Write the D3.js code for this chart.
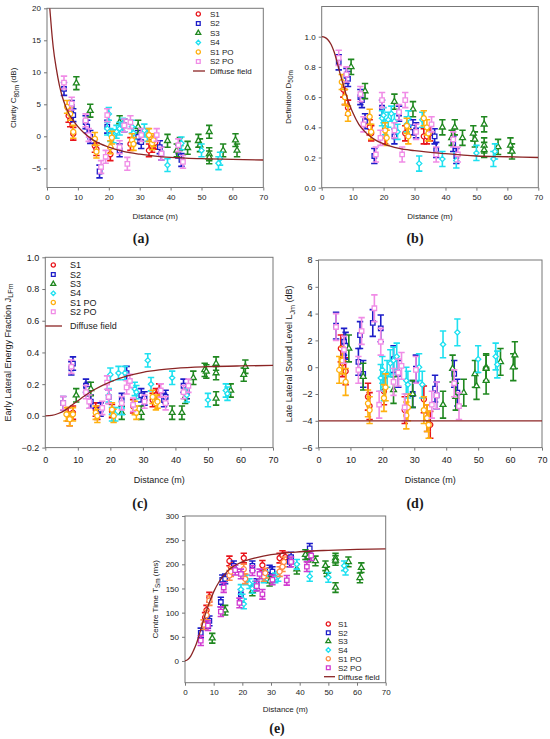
<!DOCTYPE html>
<html>
<head>
<meta charset="utf-8">
<script src="https://cdn.jsdelivr.net/npm/d3@7"></script>
<style>
  body { margin: 0; background: #fff; }
  svg { display: block; }
  text { font-family: "Liberation Sans", Arial, sans-serif; fill: #1a1a1a; }
</style>
</head>
<body>
<svg id="chart" width="550" height="739"></svg>
<script>
// ---- data ----
const seriesNames = ["S1", "S2", "S3", "S4", "S1 PO", "S2 PO"];
const xTicks = [0, 10, 20, 30, 40, 50, 60, 70];

const distS1   = [7, 7.5, 8.5, 15.5, 16, 20.5, 27, 33, 34, 35];
const distS2   = [5.5, 8, 8.5, 12.5, 13, 14, 17, 19.5, 23.5, 25, 29.5, 30.5, 36.5, 37, 42.5, 43.5];
const distS3   = [9.5, 14, 23.5, 29.5, 39, 42, 43, 45.5, 49, 49.5, 52.5, 52.5, 52.5, 57, 61, 61.5];
const distS4   = [19.5, 20, 20.5, 21.5, 22.5, 23.5, 24.5, 27.5, 28, 31.5, 32.5, 39, 43.5, 50, 55.5, 56];
const distS1PO = [6.5, 7.5, 8.5, 15.5, 16, 20.5, 21, 27.5, 28, 33, 34, 34.5];
const distS2PO = [5.5, 8, 12.5, 13.5, 17.5, 19, 19.5, 23.5, 25, 26, 27, 30.5, 35.5, 37, 42.5, 44];

// (a) clarity C80m (dB)
const c80S1   = [3.2, 2.5, 0.4, -1.5, -2.0, -2.8, -1.2, -2.2, -1.5, -1.0];
const c80S2   = [7.4, 4.6, 3.3, 2.2, 1.5, -0.1, -5.5, 1.5, -2.2, 1.7, -0.1, -0.9, -1.7, -2.7, -2.4, -3.7];
const c80S3   = [8.3, 4.0, 2.2, 1.5, -0.7, -2.2, -1.2, -1.8, -0.7, -1.4, 0.7, -2.8, -3.3, -2.2, -0.6, -2.2];
const c80S4   = [1.2, 3.5, 0.2, 0.0, 0.7, 1.2, 1.8, 1.5, 0.5, 0.9, 0.2, -4.5, -1.1, -2.2, -4.2, -3.5];
const c80S1PO = [4.6, 3.5, 0.7, -0.4, -2.4, -1.7, -0.2, -0.6, -1.2, 0.2, -1.1, -0.6];
const c80S2PO = [8.4, 5.1, 2.5, 0.2, -4.8, -3.2, 3.3, -1.7, 1.7, -4.3, 2.2, 0.2, 0.2, -2.7, -1.4, -4.0];
const c80CurveX = [0.9, 1.5, 2, 3, 4, 5, 6, 7, 8, 10, 12, 15, 20, 25, 30, 35, 40, 50, 60, 70];
const c80CurveY = [20, 16.5, 14, 10.6, 8, 6.1, 4.7, 3.6, 2.8, 1.5, 0.5, -0.6, -1.7, -2.4, -2.8, -3.1, -3.3, -3.5, -3.6, -3.7];

// (b) definition D50m
const d50S1   = [0.65, 0.60, 0.53, 0.40, 0.36, 0.34, 0.36, 0.34, 0.34, 0.36];
const d50S2   = [0.83, 0.74, 0.72, 0.60, 0.58, 0.44, 0.21, 0.53, 0.34, 0.49, 0.40, 0.38, 0.34, 0.25, 0.29, 0.21];
const d50S3   = [0.80, 0.64, 0.57, 0.52, 0.40, 0.33, 0.40, 0.33, 0.36, 0.32, 0.42, 0.28, 0.25, 0.27, 0.28, 0.24];
const d50S4   = [0.46, 0.48, 0.40, 0.45, 0.49, 0.44, 0.37, 0.42, 0.46, 0.16, 0.45, 0.19, 0.18, 0.23, 0.19, 0.24];
const d50S1PO = [0.70, 0.60, 0.49, 0.47, 0.37, 0.38, 0.33, 0.41, 0.34, 0.46, 0.40, 0.36];
const d50S2PO = [0.86, 0.75, 0.62, 0.42, 0.22, 0.33, 0.58, 0.38, 0.50, 0.22, 0.58, 0.37, 0.42, 0.22, 0.32, 0.22];
const d50CurveX = [0, 1, 2, 3, 4, 5, 6, 7, 8, 9, 10, 12, 14, 17, 20, 25, 30, 40, 50, 60, 70];
const d50CurveY = [1.0, 0.995, 0.98, 0.95, 0.90, 0.83, 0.75, 0.68, 0.61, 0.55, 0.50, 0.42, 0.37, 0.32, 0.29, 0.26, 0.245, 0.225, 0.21, 0.205, 0.20];

// (c) early lateral energy fraction JLFm
const jlfS1   = [0.01, -0.02, 0.02, 0.04, 0.02, 0.03, 0.06, 0.10, 0.13, 0.16];
const jlfS2   = [0.08, 0.30, 0.33, 0.19, 0.17, 0.09, 0.04, 0.12, 0.10, 0.27, 0.13, 0.11, 0.10, 0.12, 0.19, 0.15];
const jlfS3   = [0.13, 0.17, 0.02, 0.02, 0.02, 0.02, 0.12, 0.24, 0.29, 0.28, 0.33, 0.27, 0.11, 0.16, 0.26, 0.31];
const jlfS4   = [0.13, 0.26, 0.01, 0.01, 0.27, 0.05, 0.27, 0.17, 0.15, 0.35, 0.20, 0.24, 0.13, 0.10, 0.16, 0.14];
const jlfS1PO = [0.01, -0.02, 0.01, 0.02, 0.00, 0.04, 0.00, 0.05, 0.02, 0.12, 0.08, 0.09];
const jlfS2PO = [0.08, 0.31, 0.15, 0.09, 0.05, 0.21, 0.12, 0.08, 0.18, 0.22, 0.07, 0.09, 0.16, 0.08, 0.15, 0.19];
const jlfCurveX = [0, 2, 4, 6, 8, 10, 12, 15, 20, 25, 30, 35, 40, 50, 60, 70];
const jlfCurveY = [0, 0.003, 0.015, 0.035, 0.065, 0.095, 0.125, 0.165, 0.215, 0.25, 0.275, 0.29, 0.30, 0.31, 0.315, 0.318];

// (d) late lateral sound level LJm (dB)
const ljS1   = [1.4, 0.3, -0.3, -2.2, -2.9, -1.8, -3.2, -2.4, -3.8, -4.3];
const ljS2   = [3.1, 1.9, 1.6, 0.4, 2.4, -0.5, 3.3, 2.9, 0.6, -0.5, -2.0, -0.1, -1.6, -2.1, -0.5, -1.9];
const ljS3   = [1.4, -0.7, -1.7, -2.0, -2.8, -0.1, -2.2, -1.9, -0.5, -1.4, 0.0, -0.1, -1.0, 0.4, 0.0, 0.9];
const ljS4   = [-0.8, -0.2, -1.5, -0.5, 0.3, 0.5, 0.8, -1.0, -1.3, 0.0, -1.3, 1.7, 2.6, 0.6, 0.8, 0.2];
const ljS1PO = [-0.2, 0.5, -1.1, -2.7, -3.2, -2.3, -1.5, -3.6, -3.0, -3.2, -3.8, -4.3];
const ljS2PO = [3.0, 1.3, -0.2, 2.7, 4.4, -2.8, 1.9, -1.1, -0.4, 0.1, -3.0, -0.2, -2.8, -2.1, -1.2, -2.9];
const ljCurveX = [0, 70];
const ljCurveY = [-4, -4];

// (e) centre time TSm (ms)
const tsS1   = [90, 105, 132, 207, 195, 213, 198, 213, 218, 215];
const tsS2   = [58, 78, 83, 122, 168, 170, 197, 138, 197, 160, 188, 185, 205, 215, 220, 233];
const tsS3   = [47, 105, 145, 165, 190, 220, 215, 207, 197, 185, 213, 208, 152, 205, 172, 193];
const tsS4   = [148, 128, 118, 168, 160, 150, 155, 172, 176, 172, 175, 200, 175, 173, 197, 188];
const tsS1PO = [75, 95, 125, 177, 185, 190, 170, 175, 182, 185, 195, 205];
const tsS2PO = [42, 73, 102, 152, 188, 120, 180, 187, 155, 180, 138, 168, 167, 205, 195, 218];
const tsCurveX = [0, 1, 2, 3, 4, 5, 6, 7, 8, 10, 12, 15, 20, 25, 30, 40, 50, 60, 70];
const tsCurveY = [0, 3, 10, 22, 36, 55, 75, 95, 113, 143, 165, 187, 205, 214, 220, 226, 229, 231, 232];

// ---- styling ----
const dists = [distS1, distS2, distS3, distS4, distS1PO, distS2PO];
const symbols = [d3.symbolCircle, d3.symbolSquare, d3.symbolTriangle, d3.symbolDiamond2, d3.symbolCircle, d3.symbolSquare];
const symbolSizes = [20, 20, 15, 18, 20, 20];
const colorsAD = ["#e8141b", "#1c1cc8", "#1f871f", "#1ee0f0", "#ffb00f", "#f08ce6"];
const colorsE  = ["#e8141b", "#1c1cc8", "#1f871f", "#1ee0f0", "#ff8a45", "#d13bd1"];
const curveColor = "#8b2525";

const panels = [
  { id: "a", left: 47, right: 263.3, top: 8.3, bottom: 187.5, yDomain: [-8, 20], yTicks: [-5, 0, 5, 10, 15, 20], fmt: d3.format("d"),
    values: [c80S1, c80S2, c80S3, c80S4, c80S1PO, c80S2PO], err: 1.0, curveX: c80CurveX, curveY: c80CurveY, colors: colorsAD,
    font: 8, tickY: 14, xLabelY: 218.5, ylx: 13.3, yl: ["Clarity C", "80m", " (dB)"], cap: [141, 243],
    legend: { mx: 198.3, tx: 210, lx: [193, 205], rows: [14, 23.5, 33, 42.5, 52, 61.5, 71], font: 8 } },
  { id: "b", left: 321.7, right: 538.3, top: 6.5, bottom: 187.7, yDomain: [0, 1.2], yTicks: [0, 0.2, 0.4, 0.6, 0.8, 1.0], fmt: d3.format(".1f"),
    values: [d50S1, d50S2, d50S3, d50S4, d50S1PO, d50S2PO], err: 0.05, curveX: d50CurveX, curveY: d50CurveY, colors: colorsAD,
    font: 8, tickY: 14, xLabelY: 218.5, ylx: 288, yl: ["Definition D", "50m", ""], cap: [415, 243] },
  { id: "c", left: 45.3, right: 273, top: 257.3, bottom: 447.6, yDomain: [-0.2, 1.0], yTicks: [-0.2, 0, 0.2, 0.4, 0.6, 0.8, 1.0], fmt: d3.format(".1f"),
    values: [jlfS1, jlfS2, jlfS3, jlfS4, jlfS1PO, jlfS2PO], err: 0.042, curveX: jlfCurveX, curveY: jlfCurveY, colors: colorsAD,
    font: 9, tickY: 16, xLabelY: 483, ylx: 7.5, yl: ["Early Lateral Energy Fraction J", "LFm", ""], cap: [140, 508],
    legend: { mx: 53.3, tx: 70, lx: [45.3, 62], rows: [265, 274.5, 284, 293.3, 302.5, 311.7, 326], font: 9 } },
  { id: "d", left: 318.5, right: 542, top: 260, bottom: 447.6, yDomain: [-6, 8], yTicks: [-6, -4, -2, 0, 2, 4, 6, 8], fmt: d3.format("d"),
    values: [ljS1, ljS2, ljS3, ljS4, ljS1PO, ljS2PO], err: 1.0, curveX: ljCurveX, curveY: ljCurveY, colors: colorsAD,
    font: 9, tickY: 16, xLabelY: 483, ylx: 289, yl: ["Late Lateral Sound Level L", "Jm", " (dB)"], cap: [415, 508] },
  { id: "e", left: 185, right: 385.7, top: 516, bottom: 682.7, yDomain: [-45, 300], yTicks: [0, 50, 100, 150, 200, 250, 300], fmt: d3.format("d"),
    values: [tsS1, tsS2, tsS3, tsS4, tsS1PO, tsS2PO], err: 10, curveX: tsCurveX, curveY: tsCurveY, colors: colorsE,
    font: 8, tickY: 14, xLabelY: 712, ylx: 155, yl: ["Centre Time T", "Sm", " (ms)"], cap: [277, 733],
    legend: { mx: 328.3, tx: 338, lx: [324, 335], rows: [624, 632.7, 641.3, 650, 658.7, 667.7, 676.7], font: 8 } }
];

const svg = d3.select("#chart");

function drawPanel(p) {
  const g = svg.append("g").attr("class", "panel-" + p.id);
  const x = d3.scaleLinear().domain([0, 70]).range([p.left, p.right]);
  const y = d3.scaleLinear().domain(p.yDomain).range([p.bottom, p.top]);

  const clipId = "clip-" + p.id;
  svg.append("clipPath").attr("id", clipId)
    .append("rect").attr("x", p.left).attr("y", p.top)
    .attr("width", p.right - p.left).attr("height", p.bottom - p.top);

  // axes
  const xa = g.append("g").attr("transform", `translate(0,${p.bottom})`)
    .call(d3.axisBottom(x).tickValues(xTicks).tickSize(3).tickPadding(p.tickY - 10));
  const ya = g.append("g").attr("transform", `translate(${p.left},0)`)
    .call(d3.axisLeft(y).tickValues(p.yTicks).tickFormat(p.fmt).tickSize(3).tickPadding(3));
  [xa, ya].forEach(a => {
    a.select(".domain").remove();
    a.selectAll(".tick line").attr("stroke", "#777");
    a.selectAll(".tick text").attr("font-size", p.font).attr("font-family", "Liberation Sans, Arial, sans-serif").attr("fill", "#1a1a1a");
  });

  // frame
  g.append("rect").attr("x", p.left).attr("y", p.top)
    .attr("width", p.right - p.left).attr("height", p.bottom - p.top)
    .attr("fill", "none").attr("stroke", "#777").attr("stroke-width", 1);

  const plot = g.append("g").attr("clip-path", `url(#${clipId})`);

  // error bars + markers per series
  p.values.forEach((vals, si) => {
    const col = p.colors[si];
    const pts = dists[si].map((d, i) => ({ d, v: vals[i] }));
    const sg = plot.append("g");
    const eb = sg.selectAll("g.eb").data(pts).join("g").attr("class", "eb");
    eb.append("line")
      .attr("x1", d => x(d.d)).attr("x2", d => x(d.d))
      .attr("y1", d => y(d.v - p.err)).attr("y2", d => y(d.v + p.err))
      .attr("stroke", col).attr("stroke-width", 1.6);
    [-1, 1].forEach(s => {
      eb.append("line")
        .attr("x1", d => x(d.d) - 3.2).attr("x2", d => x(d.d) + 3.2)
        .attr("y1", d => y(d.v + s * p.err)).attr("y2", d => y(d.v + s * p.err))
        .attr("stroke", col).attr("stroke-width", 1.6);
    });
    sg.selectAll("path.mk").data(pts).join("path").attr("class", "mk")
      .attr("d", d3.symbol().type(symbols[si]).size(symbolSizes[si]))
      .attr("transform", d => `translate(${x(d.d)},${y(d.v)})`)
      .attr("fill", "#fff").attr("stroke", col).attr("stroke-width", 1.3);
  });

  // diffuse field curve
  const curvePts = p.curveX.map((cx, i) => [cx, p.curveY[i]]);
  plot.append("path").datum(curvePts)
    .attr("d", d3.line().x(d => x(d[0])).y(d => y(d[1])).curve(d3.curveMonotoneX))
    .attr("fill", "none").attr("stroke", curveColor).attr("stroke-width", 1.3);

  // x label
  g.append("text").attr("x", (p.left + p.right) / 2).attr("y", p.xLabelY)
    .attr("text-anchor", "middle").attr("font-size", p.font).text("Distance (m)");

  // y label with subscript
  const yt = g.append("text")
    .attr("transform", `translate(${p.ylx},${(p.top + p.bottom) / 2}) rotate(-90)`)
    .attr("text-anchor", "middle").attr("dy", "0.35em").attr("font-size", p.font);
  yt.append("tspan").text(p.yl[0]);
  yt.append("tspan").attr("dy", 2.5).attr("font-size", p.font * 0.8).text(p.yl[1]);
  yt.append("tspan").attr("dy", -2.5).text(p.yl[2]);

  // caption
  g.append("text").attr("x", p.cap[0]).attr("y", p.cap[1]).attr("text-anchor", "middle")
    .style("font-family", "'Liberation Serif', 'Times New Roman', serif")
    .attr("font-size", 14).attr("font-weight", "bold").text(`(${p.id})`);

  // legend
  if (p.legend) {
    const L = p.legend;
    const lg = g.append("g");
    seriesNames.forEach((name, si) => {
      lg.append("path")
        .attr("d", d3.symbol().type(symbols[si]).size(symbolSizes[si] * 0.7))
        .attr("transform", `translate(${L.mx},${L.rows[si]})`)
        .attr("fill", "#fff").attr("stroke", p.colors[si]).attr("stroke-width", 1.3);
      lg.append("text").attr("x", L.tx).attr("y", L.rows[si]).attr("dy", "0.35em")
        .attr("font-size", L.font).text(name);
    });
    lg.append("line").attr("x1", L.lx[0]).attr("x2", L.lx[1])
      .attr("y1", L.rows[6]).attr("y2", L.rows[6])
      .attr("stroke", curveColor).attr("stroke-width", 1.3);
    lg.append("text").attr("x", L.tx).attr("y", L.rows[6]).attr("dy", "0.35em")
      .attr("font-size", L.font).text("Diffuse field");
  }
}

panels.forEach(drawPanel);
</script>
</body>
</html>
